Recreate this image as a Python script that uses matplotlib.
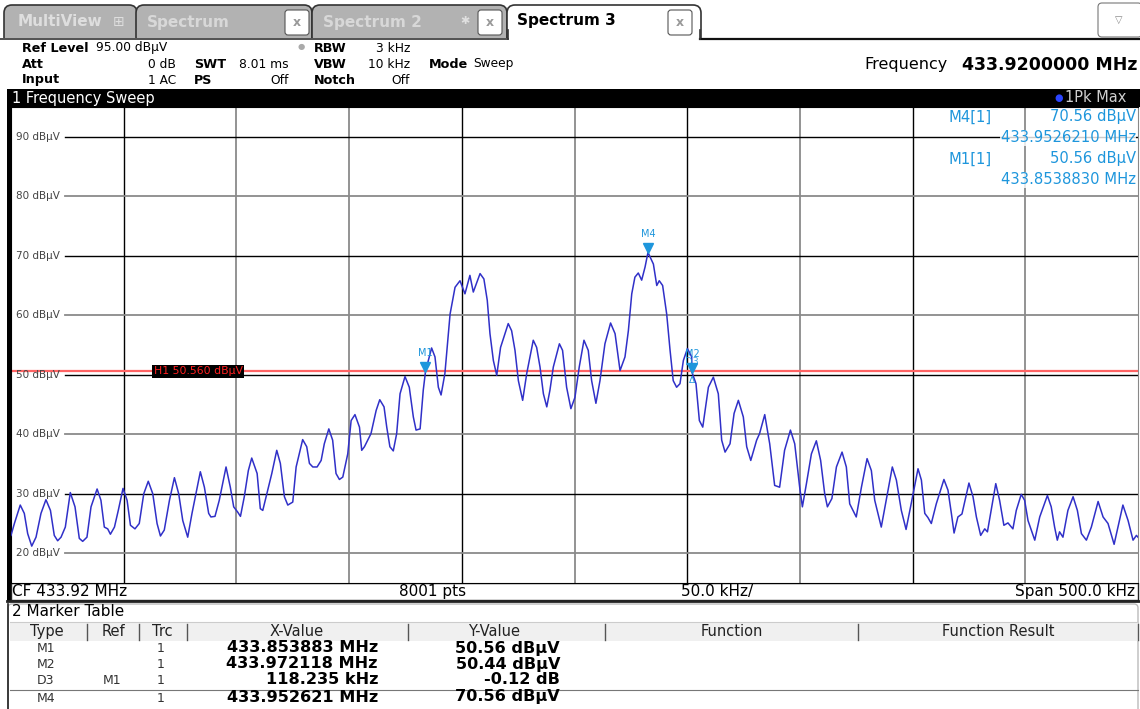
import matplotlib
matplotlib.use("Agg")
import matplotlib.pyplot as plt
from matplotlib.patches import Rectangle, FancyBboxPatch
from matplotlib.transforms import offset_copy

plt.rcParams['font.family'] = ['DejaVu Sans']

# sweep settings
start_mhz = 433.67
span_khz = 500.0
ref_level = 95.0
db_range = 80.0

# trace: offset from start (kHz) and level (dBuV)
trace_khz = [0.0, 1.5, 4.1, 5.9, 7.4, 9.2, 11.1, 13.3, 15.5, 17.5, 19.2, 20.7, 22.2, 24.1,
             26.3, 28.4, 30.3, 31.8, 33.7, 35.5, 38.2, 39.9, 41.4, 42.9, 44.1, 45.9, 47.6,
             49.7, 51.5, 53.0, 55.0, 56.9, 58.9, 60.9, 62.9, 64.8, 66.3, 68.0, 70.3, 72.5,
             74.4, 76.2, 78.4, 80.3, 84.0, 85.8, 87.7, 88.7, 90.5, 92.4, 95.4, 97.3, 98.8,
             100.6, 101.8, 103.5, 105.3, 106.8, 109.2, 110.6, 111.7, 113.9, 115.7, 117.9,
             119.5, 121.3, 122.8, 125.0, 126.5, 129.4, 131.2, 132.4, 133.9, 135.8, 137.6,
             139.0, 141.0, 142.7, 144.2, 145.7, 147.2, 149.4, 150.9, 152.6, 154.6, 155.6,
             156.8, 159.7, 162.0, 163.6, 165.5, 166.7, 168.1, 169.6, 171.1, 172.6, 174.8,
             176.7, 178.5, 179.7, 181.5, 182.9, 183.9, 186.6, 188.1, 189.6, 190.8, 192.5,
             194.8, 197.0, 199.2, 201.4, 203.6, 205.1, 208.1, 209.8, 211.3, 212.5, 214.0,
             215.5, 217.2, 220.6, 222.1, 223.6, 225.1, 227.0, 228.8, 231.7, 233.2, 234.7,
             236.2, 237.7, 239.1, 240.6, 243.3, 244.7, 246.5, 248.4, 250.2, 252.1, 254.2,
             256.1, 257.6, 259.5, 261.3, 263.5, 266.0, 268.0, 269.2, 270.2, 272.4, 273.9,
             275.4, 276.8, 278.3, 279.8, 281.3, 282.6, 285.0, 286.5, 287.6, 289.1, 290.9,
             292.4, 293.8, 295.3, 296.8, 298.3, 300.1, 302.0, 302.1, 303.9, 305.4, 306.9,
             309.4, 311.6, 313.8, 315.3, 316.8, 319.0, 320.8, 322.7, 324.9, 326.4, 328.2,
             330.8, 332.1, 334.4, 336.6, 338.8, 341.0, 343.2, 345.8, 347.7, 349.9, 351.1,
             352.9, 355.1, 357.3, 359.2, 361.0, 362.2, 364.2, 366.2, 368.7, 370.6, 372.1,
             375.0, 377.3, 379.8, 381.7, 383.2, 386.1, 388.3, 391.0, 392.8, 395.0, 397.1,
             399.1, 402.4, 403.9, 405.4, 406.8, 408.3, 410.5, 413.9, 415.7, 417.2, 418.4,
             420.1, 421.9, 425.0, 426.8, 428.3, 430.2, 432.0, 433.2, 436.9, 438.6, 440.5,
             442.3, 444.5, 446.0, 448.2, 449.7, 451.2, 454.2, 456.4, 459.8, 461.5, 463.0,
             464.2, 465.2, 466.7, 468.9, 471.2, 473.1, 474.9, 477.1, 479.3, 482.3, 484.5,
             486.7, 489.4, 491.1, 493.3, 495.6, 497.8, 499.3, 500.0]
trace_db = [23.0, 25.0, 28.1, 26.7, 23.3, 21.2, 22.7, 26.7, 29.0, 27.2, 23.0, 22.1, 22.7, 24.4,
            30.2, 27.8, 22.5, 22.0, 22.7, 27.8, 30.8, 28.9, 24.4, 24.1, 23.2, 24.4, 27.2,
            30.9, 28.9, 24.7, 24.1, 25.0, 30.0, 32.1, 30.0, 25.0, 22.9, 23.9, 28.9, 32.7,
            30.0, 25.5, 22.7, 26.7, 33.7, 31.1, 26.7, 26.1, 26.2, 28.9, 34.5, 31.1, 27.8,
            26.9, 26.2, 29.5, 33.9, 36.0, 33.4, 27.5, 27.2, 30.6, 33.4, 37.3,
            35.1, 29.5, 28.1, 28.6, 34.5, 39.1, 37.9, 35.1, 34.5, 34.5, 35.6,
            38.4, 40.9, 39.0, 33.4, 32.4, 32.8, 36.7, 42.3, 43.3, 41.2, 37.3,
            37.9, 40.1, 44.0, 45.8, 44.6, 41.2, 37.9, 37.2, 40.1, 46.8, 49.7,
            47.9, 42.9, 40.7, 40.9, 47.4, 50.56, 54.5, 53.0, 47.9, 46.6, 50.2,
            60.2, 64.7, 65.8, 63.6, 66.7, 63.9, 67.0, 66.1, 62.5, 56.9, 52.4,
            49.9, 54.6, 58.6, 57.4, 54.1, 49.0, 45.7, 50.2, 55.8, 54.6, 51.3,
            46.8, 44.6, 47.4, 51.3, 55.2, 54.1, 47.9, 44.3, 46.2, 51.3, 55.8,
            54.1, 49.0, 45.2, 49.0, 55.2, 58.7, 56.9, 53.5, 50.7, 53.0, 57.4,
            63.6, 66.4, 67.1, 65.9, 68.1, 70.56, 68.6, 65.0, 65.8, 65.0, 60.2,
            54.1, 49.0, 47.9, 48.5, 52.4, 54.4, 53.0, 50.44, 48.5, 42.3, 41.2,
            47.9, 49.6, 46.8, 39.0, 37.0, 38.4, 43.5, 45.7, 42.9, 37.9, 35.6,
            39.0, 40.1, 43.3, 38.4, 31.4, 31.1, 37.3, 40.7, 38.4, 31.1, 27.8,
            31.7, 36.7, 38.9, 35.6, 30.0, 27.8, 29.2, 34.5, 37.0, 34.5, 28.3,
            26.1, 31.1, 35.9, 33.9, 28.9, 24.4, 28.9, 34.5, 32.3, 27.2, 24.0,
            27.8, 34.2, 32.3, 26.7, 26.0, 25.0, 28.3, 32.4, 30.6, 26.7, 23.4,
            26.1, 26.6, 31.8, 29.5, 26.1, 23.0, 24.1, 23.6, 31.7, 28.9, 24.7,
            25.1, 24.1, 27.2, 29.9, 28.9, 25.5, 22.2, 26.1, 29.7, 27.8, 24.4,
            22.2, 23.6, 22.7, 27.2, 29.5, 27.2, 23.3, 22.2, 24.4, 28.7, 26.1,
            25.0, 21.5, 24.4, 28.1, 25.5, 22.2, 23.0, 22.7]

y_levels = [20, 30, 40, 50, 60, 70, 80, 90]
h1_level = 50.56

marker_names = ["M1", "M4", "M2"]
marker_mhz = [433.853883, 433.952621, 433.972118]
marker_db = [50.56, 70.56, 50.44]

table_type = ["M1", "M2", "D3", "M4"]
table_ref = ["", "", "M1", ""]
table_trc = ["1", "1", "1", "1"]
table_x = ["433.853883 MHz", "433.972118 MHz", "118.235 kHz", "433.952621 MHz"]
table_y = ["50.56 dBµV", "50.44 dBµV", "-0.12 dB", "70.56 dBµV"]

W, H = 1140, 709
fig = plt.figure(figsize=(W / 100, H / 100), dpi=100)
fig.patch.set_facecolor("white")

# screen chrome drawn in pixel coordinates
ui = fig.add_axes([0, 0, 1, 1])
ui.set_xlim(0, W)
ui.set_ylim(H, 0)
ui.axis("off")

# tabs
tab_bg = "#b2b2b2"
def tab(x0, x1, active=False):
    col = "white" if active else tab_bg
    ui.add_patch(FancyBboxPatch((x0, 5), x1 - x0, 40, boxstyle="round,pad=0,rounding_size=8",
                                fc=col, ec="#333333", lw=1.2))

tab(4, 137)
tab(136, 312)
tab(312, 507)
ui.add_patch(Rectangle((0, 38), W, 20, fc="white", ec="none"))
tab(507, 701, active=True)
ui.add_patch(Rectangle((505, 38), 200, 20, fc="white", ec="none"))
ui.plot([0, 508], [38.5, 38.5], color="#333333", lw=1.2)
ui.plot([700, W], [38.5, 38.5], color="#111111", lw=1.6)
ui.plot([508, 508], [30, 38.5], color="#333333", lw=1.2)
ui.plot([700, 700], [30, 38.5], color="#333333", lw=1.2)

ui.text(18, 22, "MultiView", fontsize=11, weight="bold", color="#dedede", va="center")
ui.text(119, 22, "⊞", fontsize=10, color="#dedede", va="center", ha="center")
ui.text(147, 22, "Spectrum", fontsize=11, weight="bold", color="#d8d8d8", va="center")
ui.text(323, 22, "Spectrum 2", fontsize=11, weight="bold", color="#d8d8d8", va="center")
ui.text(465, 21, "✱", fontsize=8, color="#e0e0e0", va="center", ha="center")
ui.text(517, 21, "Spectrum 3", fontsize=11, weight="bold", color="black", va="center")
for bx in (285, 478, 668):
    ui.add_patch(FancyBboxPatch((bx, 10), 24, 25, boxstyle="round,pad=0,rounding_size=3",
                                fc="white", ec="#555555", lw=0.8))
    ui.text(bx + 12, 22.5, "x", fontsize=9, weight="bold", color="#999999", ha="center", va="center")
ui.add_patch(FancyBboxPatch((1098, 3), 44, 34, boxstyle="round,pad=0,rounding_size=4",
                            fc="white", ec="#777777", lw=0.8))
ui.text(1119, 20, "▽", fontsize=7, color="#888888", ha="center", va="center")

# settings block
fs = 8.8
ui.text(22, 48, "Ref Level", fontsize=fs + 0.4, weight="bold", va="center")
ui.text(96, 48, "95.00 dBµV", fontsize=fs, va="center")
ui.text(22, 64, "Att", fontsize=fs + 0.4, weight="bold", va="center")
ui.text(176, 64, "0 dB", fontsize=fs, va="center", ha="right")
ui.text(22, 80, "Input", fontsize=fs + 0.4, weight="bold", va="center")
ui.text(176, 80, "1 AC", fontsize=fs, va="center", ha="right")
ui.text(194, 64, "SWT", fontsize=fs + 0.4, weight="bold", va="center")
ui.text(289, 64, "8.01 ms", fontsize=fs, va="center", ha="right")
ui.text(194, 80, "PS", fontsize=fs + 0.4, weight="bold", va="center")
ui.text(289, 80, "Off", fontsize=fs, va="center", ha="right")
ui.text(301, 47, "●", fontsize=6, color="#aaaaaa", va="center", ha="center")
ui.text(314, 48, "RBW", fontsize=fs + 0.4, weight="bold", va="center")
ui.text(410, 48, "3 kHz", fontsize=fs, va="center", ha="right")
ui.text(314, 64, "VBW", fontsize=fs + 0.4, weight="bold", va="center")
ui.text(410, 64, "10 kHz", fontsize=fs, va="center", ha="right")
ui.text(314, 80, "Notch", fontsize=fs + 0.4, weight="bold", va="center")
ui.text(410, 80, "Off", fontsize=fs, va="center", ha="right")
ui.text(429, 64, "Mode", fontsize=fs + 0.4, weight="bold", va="center")
ui.text(473, 64, "Sweep", fontsize=fs, va="center")
ui.text(948, 65, "Frequency", fontsize=11.5, va="center", ha="right")
ui.text(1138, 65, "433.9200000 MHz", fontsize=12.5, weight="bold", va="center", ha="right")

# black title bar + left frame
ui.add_patch(Rectangle((7, 89), W - 7, 18, fc="black", ec="none"))
ui.add_patch(Rectangle((7, 89), 4, 512, fc="black", ec="none"))
ui.text(12, 98, "1 Frequency Sweep", fontsize=10.5, color="white", va="center")
ui.text(1059, 98, "●", fontsize=7, color="#2b45ff", va="center", ha="center")
ui.text(1126, 98, "1Pk Max", fontsize=10.5, color="#cfcfcf", va="center", ha="right")

# status bar under the graticule
ui.add_patch(Rectangle((11, 583), 1127, 17, fc="white", ec="#222222", lw=1))
ui.text(12, 591.5, "CF 433.92 MHz", fontsize=11, va="center")
ui.text(433, 591.5, "8001 pts", fontsize=11, va="center", ha="center")
ui.text(717, 591.5, "50.0 kHz/", fontsize=11, va="center", ha="center")
ui.text(1135, 591.5, "Span 500.0 kHz", fontsize=11, va="center", ha="right")
ui.plot([7, W], [601, 601], color="#222222", lw=2)

# marker table panel
ui.add_patch(FancyBboxPatch((8, 604), W - 10, 110, boxstyle="round,pad=0,rounding_size=4",
                            fc="white", ec="#bbbbbb", lw=1))
ui.plot([8, 8], [604, H], color="#222222", lw=1.2)
ui.text(12, 612, "2 Marker Table", fontsize=11, va="center")
ui.add_patch(Rectangle((10, 622), 1128, 19, fc="#f0f0f0", ec="none"))
ui.plot([10, 1138], [622, 622], color="#cccccc", lw=0.8)
for sx in (87, 139, 187, 408, 605, 858, 1138):
    ui.plot([sx, sx], [624, 640], color="#555555", lw=1)
headers = [("Type", 47), ("Ref", 113), ("Trc", 162), ("X-Value", 297), ("Y-Value", 494),
           ("Function", 732), ("Function Result", 998)]
for name, hx in headers:
    ui.text(hx, 631.5, name, fontsize=10.5, color="#222222", ha="center", va="center")
row_y = [648, 664, 680, 697]
for i, ry in enumerate(row_y):
    ui.text(46, ry + 1, table_type[i], fontsize=9, color="#333333", ha="center", va="center")
    ui.text(112, ry + 1, table_ref[i], fontsize=9, color="#333333", ha="center", va="center")
    ui.text(161, ry + 1, table_trc[i], fontsize=9, color="#333333", ha="center", va="center")
    ui.text(378, ry, table_x[i], fontsize=11.6, weight="bold", ha="right", va="center")
    ui.text(560, ry, table_y[i], fontsize=11.6, weight="bold", ha="right", va="center")
ui.plot([10, 1138], [689.5, 689.5], color="#777777", lw=0.8)

# graticule
ax = fig.add_axes([11 / W, 1 - 583 / H, 1127 / W, 476 / H])
ax.set_facecolor("white")
f0 = start_mhz
f1 = start_mhz + span_khz / 1000
ax.set_xlim(f0, f1)
ax.set_ylim(ref_level - db_range, ref_level)
ax.set_xticks([])
ax.set_yticks([])
for side in ("left", "top", "bottom"):
    ax.spines[side].set_color("black")
ax.spines["right"].set_color("#888888")

vcols = ["black", "#8a8a8a", "#8a8a8a", "black", "#8a8a8a", "black", "#8a8a8a", "black", "#8a8a8a"]
for i, c in enumerate(vcols):
    ax.axvline(f0 + (i + 1) * span_khz / 10000, color=c, lw=1.0 if c == "black" else 1.3, zorder=1)
for j, lv in enumerate(y_levels):
    c = "#8a8a8a" if j % 2 == 0 else "black"
    ax.axhline(lv, xmin=0.048, color=c, lw=1.0 if c == "black" else 1.3, zorder=1)
    ax.text(0.0045, lv, f"{lv} dBµV", transform=ax.get_yaxis_transform(), fontsize=7.5,
            color="#444444", va="center", ha="left")

freqs = [start_mhz + k / 1000 for k in trace_khz]
ax.plot(freqs, trace_db, color="#3030c8", lw=1.1, zorder=3)

ax.axhline(h1_level, color="#ff6464", lw=1.6, zorder=2)
ax.text(0.1265, h1_level, f"H1 {h1_level:.3f} dBµV", transform=ax.get_yaxis_transform(),
        fontsize=7.8, color="#ff2020", va="center", ha="left", zorder=4,
        bbox=dict(fc="black", ec="none", pad=1.2))

mcol = "#1e96dc"
tri = offset_copy(ax.transData, fig=fig, y=3.2, units="points")
for name, mf, md in zip(marker_names, marker_mhz, marker_db):
    ax.plot([mf], [md], marker="v", ms=7, color=mcol, transform=tri, zorder=5)
    ax.annotate(name, (mf, md), xytext=(0, 13), textcoords="offset points", fontsize=7,
                color=mcol, ha="center", va="center", zorder=5)
# delta marker D3 sits on M2
ax.annotate("D3", (marker_mhz[2], marker_db[2]), xytext=(0, 7), textcoords="offset points",
            fontsize=7, color=mcol, ha="center", va="center", alpha=0.8, zorder=5)
ax.annotate("Δ", (marker_mhz[2], marker_db[2]), xytext=(0, -6), textcoords="offset points",
            fontsize=6.5, color=mcol, ha="center", va="center", zorder=5)

# marker readout, upper right
rb = dict(fc="white", ec="none", alpha=0.8, pad=0.5)
rfs = 10.6
ax.text(0.832, 0.979, "M4[1]", transform=ax.transAxes, fontsize=rfs, color=mcol, ha="left", va="center", bbox=rb)
ax.text(0.998, 0.979, f"{marker_db[1]:.2f} dBµV", transform=ax.transAxes, fontsize=rfs, color=mcol,
        ha="right", va="center", bbox=rb)
ax.text(0.998, 0.935, f"{marker_mhz[1]:.7f} MHz", transform=ax.transAxes, fontsize=rfs, color=mcol,
        ha="right", va="center", bbox=rb)
ax.text(0.832, 0.891, "M1[1]", transform=ax.transAxes, fontsize=rfs, color=mcol, ha="left", va="center", bbox=rb)
ax.text(0.998, 0.891, f"{marker_db[0]:.2f} dBµV", transform=ax.transAxes, fontsize=rfs, color=mcol,
        ha="right", va="center", bbox=rb)
ax.text(0.998, 0.847, f"{marker_mhz[0]:.7f} MHz", transform=ax.transAxes, fontsize=rfs, color=mcol,
        ha="right", va="center", bbox=rb)

fig.savefig("out.png", dpi=100)
